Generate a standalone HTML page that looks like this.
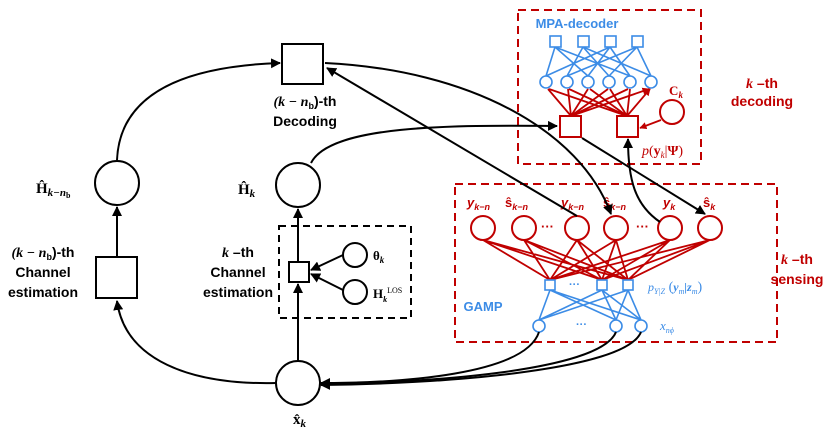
<!DOCTYPE html>
<html><head><meta charset="utf-8"><style>
html,body{margin:0;padding:0;background:#fff}
svg{display:block}
text{font-family:"Liberation Sans",sans-serif}
.b{font-weight:bold}
.s{font-family:"Liberation Serif",serif}
</style></head><body>
<svg width="831" height="437" viewBox="0 0 831 437" xmlns="http://www.w3.org/2000/svg">
<defs>
<marker id="ak" viewBox="0 0 10 10" refX="9" refY="5" markerWidth="5" markerHeight="5" orient="auto-start-reverse"><path d="M0,0L10,5L0,10z" fill="#000"/></marker>
<marker id="ar" viewBox="0 0 10 10" refX="9" refY="5" markerWidth="4" markerHeight="4" orient="auto"><path d="M0,0L10,5L0,10z" fill="#c00000"/></marker>
</defs>

<rect x="518" y="10" width="183" height="154" fill="none" stroke="#c00000" stroke-width="2" stroke-dasharray="8,5"/>
<rect x="455" y="184" width="322" height="158" fill="none" stroke="#c00000" stroke-width="2" stroke-dasharray="8,5"/>
<rect x="279" y="226" width="132" height="92" fill="none" stroke="#000" stroke-width="2" stroke-dasharray="7,5"/>

<g stroke="#3c8ce6" stroke-width="1.6" fill="none">
<path d="M555,47L546,76M555,47L588,76M555,47L630,76
M583,47L567,76M583,47L609,76M583,47L651,76
M610,47L546,76M610,47L588,76M610,47L630,76
M637,47L567,76M637,47L609,76M637,47L651,76"/>
<rect x="550" y="36" width="11" height="11" fill="#fff"/>
<rect x="578" y="36" width="11" height="11" fill="#fff"/>
<rect x="605" y="36" width="11" height="11" fill="#fff"/>
<rect x="632" y="36" width="11" height="11" fill="#fff"/>
<circle cx="546" cy="82" r="6" fill="#fff"/><circle cx="567" cy="82" r="6" fill="#fff"/>
<circle cx="588" cy="82" r="6" fill="#fff"/><circle cx="609" cy="82" r="6" fill="#fff"/>
<circle cx="630" cy="82" r="6" fill="#fff"/><circle cx="651" cy="82" r="6" fill="#fff"/>
</g>
<text x="577" y="28" font-size="13" fill="#3c8ce6" text-anchor="middle" class="b">MPA-decoder</text>

<g stroke="#c00000" stroke-width="1.8" fill="none" marker-end="url(#ar)">
<path d="M571,116L548,89M571,116L568,89M571,116L588,89M571,116L608,89M571,116L628,89M571,116L649,89"/>
<path d="M627,116L549,89M627,116L569,89M627,116L590,89M627,116L610,89M627,116L630,89M627,116L650,89"/>
<path d="M661,120L640,128"/>
</g>
<g stroke="#c00000" stroke-width="2" fill="#fff">
<rect x="560" y="116" width="21" height="21"/>
<rect x="617" y="116" width="21" height="21"/>
<circle cx="672" cy="112" r="12"/>
</g>
<text x="676" y="95" font-size="13" fill="#c00000" class="b s" text-anchor="middle">C<tspan font-size="9" font-style="italic" dy="3">k</tspan></text>
<text x="642" y="155" font-size="14" fill="#c00000" class="s"><tspan font-style="italic">p</tspan>(<tspan font-weight="bold">y</tspan><tspan font-size="9" font-style="italic" dy="3">k</tspan><tspan dy="-3">|</tspan><tspan font-weight="bold">Ψ</tspan>)</text>
<text x="762" y="88" font-size="14" fill="#c00000" class="b" text-anchor="middle"><tspan class="s" font-style="italic">k</tspan> –th</text>
<text x="762" y="106" font-size="14" fill="#c00000" class="b" text-anchor="middle">decoding</text>

<g stroke="#c00000" stroke-width="1.8" fill="none">
<path d="M483,240L550,280M483,240L602,280M483,240L628,280
M524,240L550,280M524,240L602,280M524,240L628,280
M577,240L550,280M577,240L602,280M577,240L628,280
M616,240L550,280M616,240L602,280M616,240L628,280
M670,240L550,280M670,240L602,280M670,240L628,280
M710,240L550,280M710,240L602,280M710,240L628,280"/>
</g>
<g stroke="#c00000" stroke-width="2" fill="#fff">
<circle cx="483" cy="228" r="12"/><circle cx="524" cy="228" r="12"/>
<circle cx="577" cy="228" r="12"/><circle cx="616" cy="228" r="12"/>
<circle cx="670" cy="228" r="12"/><circle cx="710" cy="228" r="12"/>
</g>
<g font-size="13" fill="#c00000" class="b s">
<text x="467" y="207"><tspan font-style="italic">y</tspan><tspan font-size="9" font-style="italic" dy="3">k−n</tspan></text>
<text x="505" y="207">ŝ<tspan font-size="9" font-style="italic" dy="3">k−n</tspan></text>
<text x="561" y="207"><tspan font-style="italic">y</tspan><tspan font-size="9" font-style="italic" dy="3">k−n</tspan></text>
<text x="603" y="207">ŝ<tspan font-size="9" font-style="italic" dy="3">k−n</tspan></text>
<text x="663" y="207"><tspan font-style="italic">y</tspan><tspan font-size="9" font-style="italic" dy="3">k</tspan></text>
<text x="703" y="207">ŝ<tspan font-size="9" font-style="italic" dy="3">k</tspan></text>
<text x="541" y="231" font-family="Liberation Sans">···</text>
<text x="636" y="231" font-family="Liberation Sans">···</text>
</g>
<text x="797" y="264" font-size="14" fill="#c00000" class="b" text-anchor="middle"><tspan class="s" font-style="italic">k</tspan> –th</text>
<text x="797" y="284" font-size="14" fill="#c00000" class="b" text-anchor="middle">sensing</text>

<g stroke="#3c8ce6" stroke-width="1.6" fill="none">
<path d="M550,290L539,320M550,290L616,320M550,290L641,320
M602,290L539,320M602,290L616,320M602,290L641,320
M628,290L539,320M628,290L616,320M628,290L641,320"/>
<rect x="545" y="280" width="10" height="10" fill="#fff"/>
<rect x="597" y="280" width="10" height="10" fill="#fff"/>
<rect x="623" y="280" width="10" height="10" fill="#fff"/>
<circle cx="539" cy="326" r="6" fill="#fff"/><circle cx="616" cy="326" r="6" fill="#fff"/><circle cx="641" cy="326" r="6" fill="#fff"/>
</g>
<g fill="#3c8ce6">
<text x="569" y="288" font-size="11" class="b">···</text>
<text x="576" y="328" font-size="11" class="b">···</text>
<text x="483" y="311" font-size="13" class="b" text-anchor="middle">GAMP</text>
<text x="648" y="291" font-size="12" class="s" font-style="italic">p<tspan font-size="8" dy="3">Y|Z</tspan><tspan dy="-3" font-style="normal" font-size="14"> (</tspan><tspan font-weight="bold">y</tspan><tspan font-size="8" dy="3">m</tspan><tspan dy="-3" font-weight="bold">|z</tspan><tspan font-size="8" dy="3">m</tspan><tspan dy="-3" font-style="normal" font-size="14">)</tspan></text>
<text x="660" y="330" font-size="13" class="s" font-style="italic">x<tspan font-size="8" dy="3">nϕ</tspan></text>
</g>

<g stroke="#000" stroke-width="2" fill="#fff">
<rect x="282" y="44" width="41" height="40"/>
<rect x="96" y="257" width="41" height="41"/>
<circle cx="117" cy="183" r="22"/>
<circle cx="298" cy="185" r="22"/>
<circle cx="298" cy="383" r="22"/>
<rect x="289" y="262" width="20" height="20"/>
<circle cx="355" cy="255" r="12"/>
<circle cx="355" cy="292" r="12"/>
</g>
<g stroke="#000" stroke-width="2" fill="none" marker-end="url(#ak)">
<path d="M117,160C120,90 190,66 280,63"/>
<path d="M276,383C190,385 125,360 117,301"/>
<path d="M298,361L298,284"/>
<path d="M298,262L298,209"/>
<path d="M117,257L117,207"/>
<path d="M343,255L311,270"/>
<path d="M343,290L311,274"/>
<path d="M311,163C330,125 450,125 557,126"/>
<path d="M325,63C470,70 580,130 611,214"/>
<path d="M577,216L327,68"/>
<path d="M582,138L705,214"/>
<path d="M660,222C635,205 628,180 628,139"/>
<path d="M539,332C525,375 400,383 321,383"/>
<path d="M616,332C600,372 420,383 321,384"/>
<path d="M641,332C625,372 430,384 321,385"/>
</g>

<g font-size="14" class="b" fill="#000">
<text x="305" y="106" text-anchor="middle"><tspan class="s" font-style="italic">(k − n</tspan><tspan font-size="9" dy="3">b</tspan><tspan dy="-3">)-th</tspan></text>
<text x="305" y="126" text-anchor="middle">Decoding</text>
<text x="43" y="257" text-anchor="middle"><tspan class="s" font-style="italic">(k − n</tspan><tspan font-size="9" dy="3">b</tspan><tspan dy="-3">)-th</tspan></text>
<text x="43" y="277" text-anchor="middle">Channel</text>
<text x="43" y="297" text-anchor="middle">estimation</text>
<text x="238" y="257" text-anchor="middle"><tspan class="s" font-style="italic">k</tspan> –th</text>
<text x="238" y="277" text-anchor="middle">Channel</text>
<text x="238" y="297" text-anchor="middle">estimation</text>
<text x="36" y="193" class="s" font-size="15">Ĥ<tspan font-size="11" font-style="italic" dy="3">k−n</tspan><tspan font-size="8" dy="2">b</tspan></text>
<text x="238" y="194" class="s" font-size="15">Ĥ<tspan font-size="11" font-style="italic" dy="3">k</tspan></text>
<text x="293" y="424" class="s" font-size="15">x̂<tspan font-size="11" font-style="italic" dy="3">k</tspan></text>
<text x="373" y="260" class="s" font-size="13">θ<tspan font-size="9" font-style="italic" dy="3">k</tspan></text>
<text x="373" y="298" class="s" font-size="13">H<tspan font-size="8" font-style="italic" dy="4">k</tspan><tspan font-size="8" font-weight="normal" dy="-9">LOS</tspan></text>
</g>
</svg>
</body></html>
